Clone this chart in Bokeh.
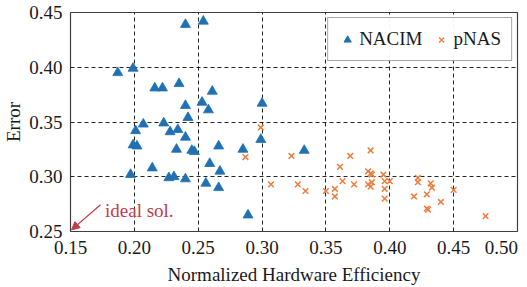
from bokeh.plotting import figure
from bokeh.models import Range1d, FixedTicker, Legend, LegendItem, Arrow, NormalHead, Label
from bokeh.embed import file_html
from bokeh.resources import INLINE

# ---- data ----
nacim_x = [0.187, 0.199, 0.216, 0.222, 0.235, 0.240, 0.254, 0.261, 0.240, 0.253,
           0.258, 0.300, 0.242, 0.201, 0.207, 0.223, 0.228, 0.234, 0.199, 0.202,
           0.240, 0.233, 0.245, 0.247, 0.266, 0.285, 0.299, 0.259, 0.267, 0.231,
           0.227, 0.240, 0.256, 0.266, 0.289, 0.197, 0.214, 0.333]
nacim_y = [0.395, 0.399, 0.381, 0.381, 0.385, 0.439, 0.442, 0.378, 0.365, 0.368,
           0.361, 0.367, 0.354, 0.342, 0.348, 0.349, 0.341, 0.343, 0.329, 0.328,
           0.336, 0.325, 0.324, 0.323, 0.328, 0.325, 0.334, 0.312, 0.305, 0.300,
           0.299, 0.298, 0.294, 0.290, 0.265, 0.302, 0.308, 0.324]

pnas_x = [0.299, 0.287, 0.307, 0.323, 0.328, 0.334, 0.350, 0.357, 0.357, 0.361,
          0.363, 0.369, 0.372, 0.385, 0.383, 0.385, 0.386, 0.383, 0.385, 0.386,
          0.395, 0.396, 0.400, 0.396, 0.396, 0.422, 0.422, 0.432, 0.433, 0.419,
          0.429, 0.440, 0.429, 0.430, 0.450, 0.475]
pnas_y = [0.345, 0.318, 0.293, 0.319, 0.293, 0.287, 0.287, 0.289, 0.282, 0.309,
          0.296, 0.319, 0.293, 0.324, 0.305, 0.303, 0.302, 0.293, 0.291, 0.295,
          0.302, 0.296, 0.296, 0.289, 0.280, 0.299, 0.295, 0.294, 0.290, 0.282,
          0.284, 0.277, 0.271, 0.270, 0.288, 0.264]

x_ticks = [0.15, 0.20, 0.25, 0.30, 0.35, 0.40, 0.45, 0.50]
x_tick_labels = ["0.15", "0.20", "0.25", "0.30", "0.35", "0.40", "0.45", "0.50\u2007"]
y_ticks = [0.25, 0.30, 0.35, 0.40, 0.45]
y_tick_labels = ["0.25", "0.30", "0.35", "0.40", "0.45"]

ideal_point = (0.15, 0.25)
annot_text = "ideal sol."
annot_start = (0.1735, 0.2745)
annot_text_pos = (0.177, 0.269)

series_names = ["NACIM", "pNAS"]
x_label = "Normalized Hardware Efficiency"
y_label = "Error"

# ---- style ----
FONT = "Liberation Serif"
FS = "19px"
BLUE = "#2071b4"
ORANGE = "#ee7d3d"
RED = "#c33a4c"
TXT = "#1a1a1a"
NAN = float("nan")

p = figure(width=527, height=287, output_backend="svg", toolbar_location=None,
           x_range=Range1d(x_ticks[0], x_ticks[-1]),
           y_range=Range1d(y_ticks[0], y_ticks[-1]),
           min_border_left=70, min_border_right=10, min_border_top=12,
           min_border_bottom=55, margin=(0, 0, 0, 0))

p.outline_line_color = "#404040"
p.outline_line_width = 1.2
p.background_fill_color = "white"
p.border_fill_color = "white"

for ax in (p.xaxis[0], p.yaxis[0]):
    ax.axis_line_color = None
    ax.major_tick_line_color = None
    ax.minor_tick_line_color = None
    ax.major_tick_out = 0
    ax.major_tick_in = 0
    ax.major_label_text_font = FONT
    ax.major_label_text_font_size = FS
    ax.major_label_text_color = TXT
    ax.axis_label_text_font = FONT
    ax.axis_label_text_font_size = FS
    ax.axis_label_text_font_style = "normal"
    ax.axis_label_text_color = TXT

p.xaxis.ticker = FixedTicker(ticks=x_ticks)
p.yaxis.ticker = FixedTicker(ticks=y_ticks)
p.xaxis.major_label_overrides = dict(zip(x_ticks, x_tick_labels))
p.yaxis.major_label_overrides = dict(zip(y_ticks, y_tick_labels))
p.xaxis.axis_label = x_label
p.yaxis.axis_label = y_label
p.xaxis.major_label_standoff = 5
p.yaxis.major_label_standoff = 8
p.xaxis.axis_label_standoff = 3
p.yaxis.axis_label_standoff = 2

for g in (p.xgrid[0], p.ygrid[0]):
    g.grid_line_color = "black"
    g.grid_line_alpha = 0.85
    g.grid_line_dash = "4 3"
    g.grid_line_width = 1

r1 = p.scatter(nacim_x, nacim_y, marker="triangle", size=10,
               fill_color=BLUE, line_color=BLUE, line_width=0.8)
r2 = p.scatter(pnas_x, pnas_y, marker="x", size=8,
               line_color=ORANGE, line_width=1.5)

# small legend-only glyphs (not shown in the plot area)
l1 = p.scatter([NAN], [NAN], marker="triangle", size=7, fill_color=BLUE, line_color=BLUE)
l2 = p.scatter([NAN], [NAN], marker="x", size=6, line_color=ORANGE, line_width=1.3)

legend = Legend(items=[LegendItem(label=series_names[0], renderers=[l1]),
                       LegendItem(label=series_names[1], renderers=[l2])],
                location="top_right", orientation="horizontal",
                label_text_font=FONT, label_text_font_size=FS,
                label_text_color=TXT,
                border_line_color="#505050", border_line_width=1.5,
                padding=10, spacing=10, margin=5, glyph_width=18, glyph_height=19,
                label_standoff=3, label_height=19)
p.add_layout(legend)

arrow = Arrow(end=NormalHead(size=8, fill_color=RED, line_color=RED),
              x_start=annot_start[0], y_start=annot_start[1],
              x_end=ideal_point[0] + 0.0008, y_end=ideal_point[1] + 0.0015,
              line_color=RED, line_width=1.2)
p.add_layout(arrow)
p.add_layout(Label(x=annot_text_pos[0], y=annot_text_pos[1], text=annot_text,
                   text_font=FONT, text_font_size=FS, text_color=RED,
                   text_baseline="alphabetic", text_align="left"))

open("out.html", "w").write(file_html(p, INLINE))
